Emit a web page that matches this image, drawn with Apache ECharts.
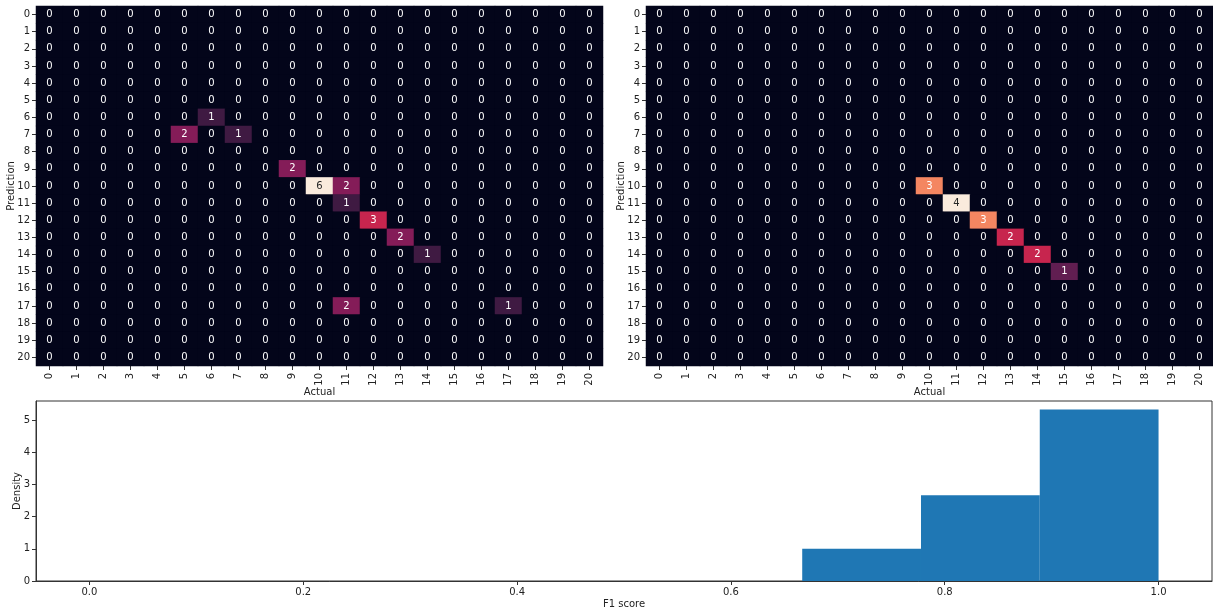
<!DOCTYPE html>
<html>
<head>
<meta charset="utf-8">
<script src="https://cdn.jsdelivr.net/npm/echarts@6.0.0/dist/echarts.min.js"></script>
<style>
html, body { margin: 0; padding: 0; background: #fff; }
#main { width: 1213px; height: 610px; }
</style>
</head>
<body>
<div id="main"></div>
<script>
// class labels for both confusion matrices
var classes = ['0','1','2','3','4','5','6','7','8','9','10','11','12','13','14','15','16','17','18','19','20'];

// left matrix: rows = Prediction, cols = Actual
var matrixLeft = [
  [0,0,0,0,0,0,0,0,0,0,0,0,0,0,0,0,0,0,0,0,0],
  [0,0,0,0,0,0,0,0,0,0,0,0,0,0,0,0,0,0,0,0,0],
  [0,0,0,0,0,0,0,0,0,0,0,0,0,0,0,0,0,0,0,0,0],
  [0,0,0,0,0,0,0,0,0,0,0,0,0,0,0,0,0,0,0,0,0],
  [0,0,0,0,0,0,0,0,0,0,0,0,0,0,0,0,0,0,0,0,0],
  [0,0,0,0,0,0,0,0,0,0,0,0,0,0,0,0,0,0,0,0,0],
  [0,0,0,0,0,0,1,0,0,0,0,0,0,0,0,0,0,0,0,0,0],
  [0,0,0,0,0,2,0,1,0,0,0,0,0,0,0,0,0,0,0,0,0],
  [0,0,0,0,0,0,0,0,0,0,0,0,0,0,0,0,0,0,0,0,0],
  [0,0,0,0,0,0,0,0,0,2,0,0,0,0,0,0,0,0,0,0,0],
  [0,0,0,0,0,0,0,0,0,0,6,2,0,0,0,0,0,0,0,0,0],
  [0,0,0,0,0,0,0,0,0,0,0,1,0,0,0,0,0,0,0,0,0],
  [0,0,0,0,0,0,0,0,0,0,0,0,3,0,0,0,0,0,0,0,0],
  [0,0,0,0,0,0,0,0,0,0,0,0,0,2,0,0,0,0,0,0,0],
  [0,0,0,0,0,0,0,0,0,0,0,0,0,0,1,0,0,0,0,0,0],
  [0,0,0,0,0,0,0,0,0,0,0,0,0,0,0,0,0,0,0,0,0],
  [0,0,0,0,0,0,0,0,0,0,0,0,0,0,0,0,0,0,0,0,0],
  [0,0,0,0,0,0,0,0,0,0,0,2,0,0,0,0,0,1,0,0,0],
  [0,0,0,0,0,0,0,0,0,0,0,0,0,0,0,0,0,0,0,0,0],
  [0,0,0,0,0,0,0,0,0,0,0,0,0,0,0,0,0,0,0,0,0],
  [0,0,0,0,0,0,0,0,0,0,0,0,0,0,0,0,0,0,0,0,0]
];

// right matrix
var matrixRight = [
  [0,0,0,0,0,0,0,0,0,0,0,0,0,0,0,0,0,0,0,0,0],
  [0,0,0,0,0,0,0,0,0,0,0,0,0,0,0,0,0,0,0,0,0],
  [0,0,0,0,0,0,0,0,0,0,0,0,0,0,0,0,0,0,0,0,0],
  [0,0,0,0,0,0,0,0,0,0,0,0,0,0,0,0,0,0,0,0,0],
  [0,0,0,0,0,0,0,0,0,0,0,0,0,0,0,0,0,0,0,0,0],
  [0,0,0,0,0,0,0,0,0,0,0,0,0,0,0,0,0,0,0,0,0],
  [0,0,0,0,0,0,0,0,0,0,0,0,0,0,0,0,0,0,0,0,0],
  [0,0,0,0,0,0,0,0,0,0,0,0,0,0,0,0,0,0,0,0,0],
  [0,0,0,0,0,0,0,0,0,0,0,0,0,0,0,0,0,0,0,0,0],
  [0,0,0,0,0,0,0,0,0,0,0,0,0,0,0,0,0,0,0,0,0],
  [0,0,0,0,0,0,0,0,0,0,3,0,0,0,0,0,0,0,0,0,0],
  [0,0,0,0,0,0,0,0,0,0,0,4,0,0,0,0,0,0,0,0,0],
  [0,0,0,0,0,0,0,0,0,0,0,0,3,0,0,0,0,0,0,0,0],
  [0,0,0,0,0,0,0,0,0,0,0,0,0,2,0,0,0,0,0,0,0],
  [0,0,0,0,0,0,0,0,0,0,0,0,0,0,2,0,0,0,0,0,0],
  [0,0,0,0,0,0,0,0,0,0,0,0,0,0,0,1,0,0,0,0,0],
  [0,0,0,0,0,0,0,0,0,0,0,0,0,0,0,0,0,0,0,0,0],
  [0,0,0,0,0,0,0,0,0,0,0,0,0,0,0,0,0,0,0,0,0],
  [0,0,0,0,0,0,0,0,0,0,0,0,0,0,0,0,0,0,0,0,0],
  [0,0,0,0,0,0,0,0,0,0,0,0,0,0,0,0,0,0,0,0,0],
  [0,0,0,0,0,0,0,0,0,0,0,0,0,0,0,0,0,0,0,0,0]
];

// F1 score histogram (density)
var binStart = [0.6667, 0.7778, 0.8889];
var binEnd = [0.7778, 0.8889, 1.0];
var density = [1.0, 2.667, 5.333];

var histTicks = [0, 0.2, 0.4, 0.6, 0.8, 1.0];
var densityTicks = [0, 1, 2, 3, 4, 5];

// seaborn "rocket"
var rocket = ['#03051a', '#35193e', '#701f57', '#ad1759', '#e13342', '#f37651', '#f6b48f', '#faebdd'];
var font = 'DejaVu Sans';

function maxOf(m) {
  var mx = 0;
  m.forEach(function (row) { row.forEach(function (v) { if (v > mx) mx = v; }); });
  return mx;
}

function toCells(m) {
  var mx = maxOf(m);
  var out = [];
  m.forEach(function (row, r) {
    row.forEach(function (v, c) {
      out.push({
        value: [c, r, v],
        label: { color: v / mx > 0.85 ? '#262626' : '#ffffff' }
      });
    });
  });
  return out;
}

function catX(gi) {
  return {
    type: 'category', gridIndex: gi, data: classes, position: 'bottom',
    axisLine: { show: false },
    axisTick: { show: true, alignWithLabel: true, length: 4, lineStyle: { color: '#333' } },
    axisLabel: { rotate: 90, fontSize: 10, color: '#222', fontFamily: font, margin: 7 },
    splitLine: { show: false },
    name: 'Actual', nameLocation: 'middle', nameGap: 21, nameMoveOverlap: false,
    nameTextStyle: { fontSize: 10, color: '#222', fontFamily: font }
  };
}

function catY(gi) {
  return {
    type: 'category', gridIndex: gi, data: classes, inverse: true,
    axisLine: { show: false },
    axisTick: { show: true, alignWithLabel: true, length: 4, lineStyle: { color: '#333' } },
    axisLabel: { fontSize: 10, color: '#222', fontFamily: font, margin: 6 },
    splitLine: { show: false },
    name: 'Prediction', nameLocation: 'middle', nameRotate: 90, nameGap: 20, nameMoveOverlap: false,
    nameTextStyle: { fontSize: 10, color: '#222', fontFamily: font }
  };
}

function heat(gi, m) {
  return {
    type: 'heatmap', xAxisIndex: gi, yAxisIndex: gi,
    data: toCells(m),
    label: { show: true, fontSize: 10, fontFamily: font, formatter: function (p) { return p.value[2]; } },
    itemStyle: { borderWidth: 0 },
    emphasis: { disabled: true }
  };
}

var histData = binStart.map(function (s, i) { return [s, binEnd[i], density[i]]; });

var chart = echarts.init(document.getElementById('main'), null, { renderer: 'canvas' });
chart.setOption({
  animation: false,
  backgroundColor: '#ffffff',
  grid: [
    { left: 36, top: 6, width: 567, height: 360, outerBoundsMode: 'none', containLabel: false,
      show: true, borderWidth: 0, backgroundColor: rocket[0] },
    { left: 646, top: 6, width: 567, height: 360, outerBoundsMode: 'none', containLabel: false,
      show: true, borderWidth: 0, backgroundColor: rocket[0] },
    { left: 36, top: 401, width: 1176, height: 180, outerBoundsMode: 'none', containLabel: false,
      show: true, borderColor: '#333', borderWidth: 1, backgroundColor: 'transparent' }
  ],
  visualMap: [
    { show: false, seriesIndex: 0, min: 0, max: maxOf(matrixLeft), dimension: 2, inRange: { color: rocket } },
    { show: false, seriesIndex: 1, min: 0, max: maxOf(matrixRight), dimension: 2, inRange: { color: rocket } }
  ],
  xAxis: [
    catX(0),
    catX(1),
    {
      type: 'value', gridIndex: 2, min: -0.05, max: 1.05,
      axisLine: { show: true, onZero: false, lineStyle: { color: '#333' } },
      axisTick: { show: true, length: 4, customValues: histTicks, lineStyle: { color: '#333' } },
      axisLabel: { customValues: histTicks, fontSize: 10, color: '#222', fontFamily: font, margin: 6,
        formatter: function (v) { return v.toFixed(1); } },
      splitLine: { show: false },
      name: 'F1 score', nameLocation: 'middle', nameGap: 18, nameMoveOverlap: false,
      nameTextStyle: { fontSize: 10, color: '#222', fontFamily: font }
    }
  ],
  yAxis: [
    catY(0),
    catY(1),
    {
      type: 'value', gridIndex: 2, min: 0, max: 5.6,
      axisLine: { show: true, onZero: false, lineStyle: { color: '#333' } },
      axisTick: { show: true, length: 4, customValues: densityTicks, lineStyle: { color: '#333' } },
      axisLabel: { customValues: densityTicks, fontSize: 10, color: '#222', fontFamily: font, margin: 6 },
      splitLine: { show: false },
      name: 'Density', nameLocation: 'middle', nameRotate: 90, nameGap: 14, nameMoveOverlap: false,
      nameTextStyle: { fontSize: 10, color: '#222', fontFamily: font }
    }
  ],
  series: [
    heat(0, matrixLeft),
    heat(1, matrixRight),
    {
      type: 'custom', xAxisIndex: 2, yAxisIndex: 2,
      data: histData,
      encode: { x: [0, 1], y: 2 },
      renderItem: function (params, api) {
        var p0 = api.coord([api.value(0), 0]);
        var p1 = api.coord([api.value(1), api.value(2)]);
        return {
          type: 'rect',
          shape: { x: p0[0], y: p1[1], width: p1[0] - p0[0], height: p0[1] - p1[1] },
          style: { fill: '#1f77b4' }
        };
      }
    }
  ]
});
</script>
</body>
</html>
